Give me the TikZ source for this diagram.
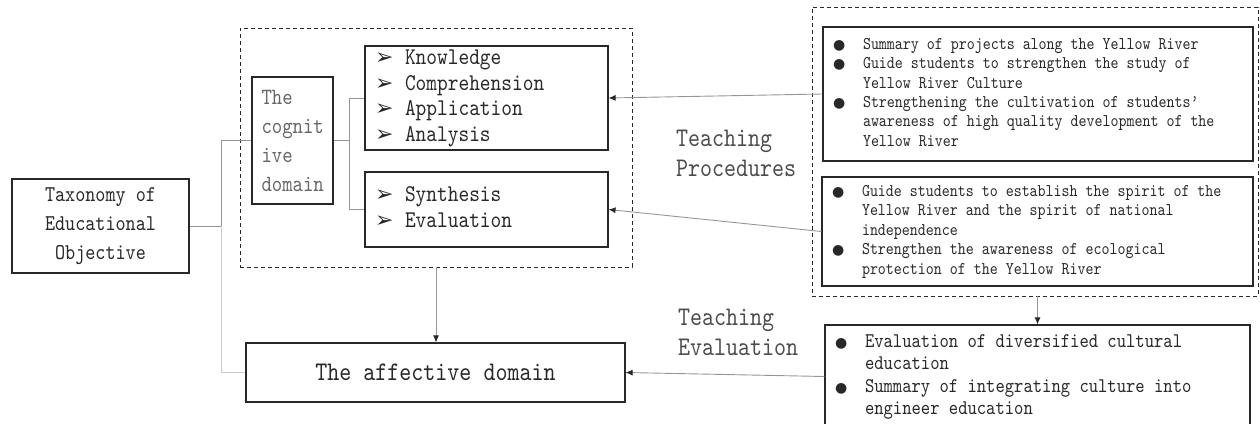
\documentclass[tikz,border=0pt]{standalone}
\usepackage{fontspec}
\setmonofont{lmmono10-regular.otf}[FakeStretch=0.85]
\newfontfamily\symbfont{DejaVu Sans}
\usepackage{xcolor}
\definecolor{Col1}{RGB}{40,40,40}
\definecolor{Col2}{RGB}{150,150,150}
\usepackage{tikz}
\usetikzlibrary{arrows.meta}
\newcommand{\Tt}[2]{\ttfamily\fontsize{#1}{#2}\selectfont}
\newcommand{\Bul}{{\symbfont\fontsize{14}{14}\selectfont ●}}
\newcommand{\Arw}{{\symbfont\fontsize{22}{22}\selectfont ➢}}
\newcommand{\Items}[2]{\begin{tabular}{@{}p{30pt}@{}p{#1}@{}}#2\end{tabular}}
\tikzstyle{Box}=[draw=Col1,line width=1.1pt,text=Col1,inner sep=0pt]
\tikzstyle{Group}=[draw=Col1,line width=.9pt,dash pattern=on 4pt off 3pt,
inner sep=0pt]
\tikzstyle{Edge}=[draw=Col2,line width=.9pt]
\tikzstyle{EdgeL}=[draw=Col2!50,line width=.9pt]
\tikzstyle{Arrow}=[Edge,-{Latex[length=7pt,width=6pt,color=Col1]}]
\tikzstyle{Label}=[text=black!70,inner sep=0pt,font=\Tt{26.9}{30}]

\begin{document}
\begin{tikzpicture}[x=1pt,y=-1pt]
        \useasboundingbox(0,0)rectangle(1260,423);
        % dashed groups
        \node[Group,minimum width=392pt,minimum height=239pt](cog)at(436,147.5){};
        \node[Group,minimum width=446pt,minimum height=289pt](proc)at(1035,151.5){};
        % left part
        \node[Box,minimum width=177pt,minimum height=94pt,align=center,
            font=\Tt{22.6}{29}](tax)at(100.5,226){Taxonomy of\\Educational\\Objective};
        \node[Box,text=black!60,minimum height=127pt,text width=62pt,inner xsep=9.5pt,
            align=left,font=\Tt{23.3}{29}](cd)at(292.5,140.5){The\\cognit\\ive\\domain};
        \node[Box,inner xsep=10pt,minimum height=104pt,font=\Tt{24}{25.5}](know)at(486.5,98){%
            \Items{193pt}{\Arw&Knowledge\\\Arw&Comprehension\\\Arw&Application\\\Arw&Analysis}};
        \node[Box,inner xsep=10pt,minimum height=75pt,font=\Tt{24}{25.5}](synth)at(486.5,209.5){%
            \Items{193pt}{\Arw&Synthesis\\\Arw&Evaluation}};
        \node[Box,minimum width=379pt,minimum height=59pt,
            font=\Tt{26.9}{29}](aff)at(435.5,372.5){The affective domain};
        % right part
        \node[Box,inner xsep=10pt,minimum height=134pt,font=\Tt{17.9}{19.4}](sumbox)at(1038,94){%
            \Items{380pt}{\Bul&Summary of projects along the Yellow River\\
            \Bul&Guide students to strengthen the study of\\
            &Yellow River Culture\\
            \Bul&Strengthening the cultivation of students’\\
            &awareness of high quality development of the\\
            &Yellow River}};
        \node[Box,inner xsep=10pt,minimum height=109pt,font=\Tt{17.9}{19.4}](spirit)at(1037.5,231.5){%
            \Items{381pt}{\Bul&Guide students to establish the spirit of the\\
            &Yellow River and the spirit of national\\
            &independence\\
            \Bul&Strengthen the awareness of ecological\\
            &protection of the Yellow River}};
        \node[Box,inner xsep=10pt,minimum height=103pt,font=\Tt{20.9}{22.3}](evalbox)at(1037.5,376.5){%
            \Items{375pt}{\Bul&Evaluation of diversified cultural\\
            &education\\
            \Bul&Summary of integrating culture into\\
            &engineer education}};
        \node[Label,anchor=west,align=left](tp)at(676,153){Teaching\\Procedures};
        \node[Label,anchor=west,align=left](te)at(678,332.5){Teaching\\Evaluation};
        % connectors
        \coordinate(j1)at(221,0);
        \coordinate(j2)at(349,0);
        \draw[Edge](tax.east)--(tax.east-|j1);
        \draw[Edge](cd.west)-|(j1|-tax.east);
        \draw[EdgeL](aff.west)-|(j1|-tax.east);
        \draw[Edge](cd.east)--(cd.east-|j2);
        \draw[Edge](know.west)-|(j2|-cd.east);
        \draw[Edge](synth.west)-|(j2|-cd.east);
        \draw[Arrow](cog.south)--(cog.south|-aff.north);
        \draw[Arrow](sumbox.west)--(know.east);
        \draw[Arrow](spirit.west)--(synth.east);
        \draw[Arrow](evalbox.west)--(aff.east);
        \draw[Arrow](proc.south-|evalbox.north)--(evalbox.north);
    \end{tikzpicture}
\end{document}
